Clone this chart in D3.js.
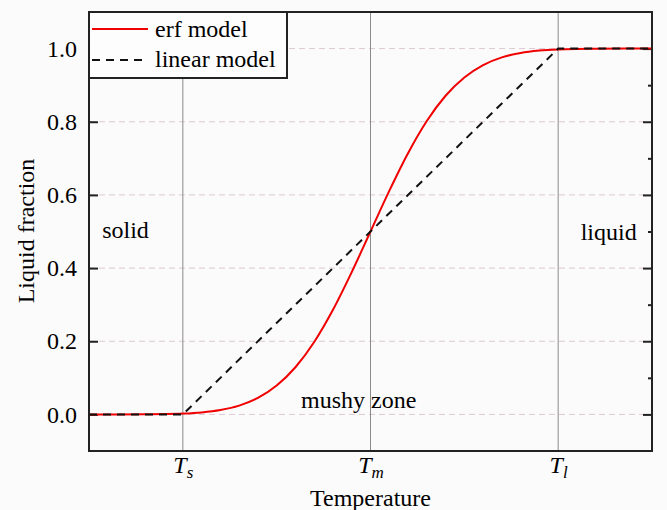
<!DOCTYPE html>
<html>
<head>
<meta charset="utf-8">
<script src="https://cdn.jsdelivr.net/npm/d3@7"></script>
<style>
  body { margin: 0; background: #fbfbfb; }
  svg { display: block; }
  svg text { font-family: "Liberation Serif", "Times New Roman", serif; }
</style>
</head>
<body>
<svg id="chart" width="667" height="510"></svg>
<script>
'use strict';

// temperature axis: Ts = -1, Tm = 0, Tl = 1
const temp_ticks = [-1, 0, 1];
const temp_subscripts = ['s', 'm', 'l'];
const fraction_ticks = [0, 0.2, 0.4, 0.6, 0.8, 1.0];
const fraction_minor = [0.1, 0.3, 0.5, 0.7, 0.9];

// erf model
const erf_temp = [-1.5, -1.2, -1.1, -1.0, -0.9, -0.8, -0.7, -0.6, -0.5, -0.4, -0.3, -0.2, -0.1,
  0, 0.1, 0.2, 0.3, 0.4, 0.5, 0.6, 0.7, 0.8, 0.9, 1.0, 1.1, 1.2, 1.5];
const erf_fraction = [0, 0.0003, 0.0009, 0.0023, 0.0055, 0.012, 0.024, 0.045, 0.079, 0.129, 0.198, 0.286, 0.389,
  0.5, 0.611, 0.714, 0.802, 0.871, 0.921, 0.955, 0.976, 0.988, 0.9945, 0.9977, 0.9991, 0.9997, 1];

// linear model
const linear_temp = [-1.5, -1, 1, 1.5];
const linear_fraction = [0, 0, 1, 1];

const region_labels = [
  {text: 'solid', t: -1.43, f: 0.482},
  {text: 'liquid', t: 1.12, f: 0.478},
  {text: 'mushy zone', t: -0.37, f: 0.018}
];

const svg = d3.select('#chart');
const plot_left = 89, plot_right = 652, plot_top = 12, plot_bottom = 451;

const x = d3.scaleLinear().domain([-1.5, 1.5]).range([plot_left, plot_right]);
const y = d3.scaleLinear().domain([-0.1, 1.1]).range([plot_bottom, plot_top]);

// horizontal dashed grid
svg.append('g').selectAll('line').data(fraction_ticks).join('line')
  .attr('x1', plot_left).attr('x2', plot_right)
  .attr('y1', d => y(d)).attr('y2', d => y(d))
  .attr('stroke', '#dcc9d4').attr('stroke-width', 1)
  .attr('stroke-dasharray', '6,4');

// vertical lines at Ts, Tm, Tl
svg.append('g').selectAll('line').data(temp_ticks).join('line')
  .attr('x1', d => x(d)).attr('x2', d => x(d))
  .attr('y1', plot_top).attr('y2', plot_bottom)
  .attr('stroke', '#8a8a8a').attr('stroke-width', 1);

// left axis, ticks pointing in
const yaxis = svg.append('g').attr('transform', `translate(${plot_left},0)`)
  .call(d3.axisLeft(y).tickValues(fraction_ticks).tickSize(-9).tickPadding(12)
    .tickFormat(d3.format('.1f')));
yaxis.select('.domain').remove();
yaxis.selectAll('line').attr('stroke', '#222').attr('stroke-width', 2);
yaxis.selectAll('text').attr('font-size', 24).attr('fill', '#000');

// right axis, major + minor ticks pointing in
const yright = svg.append('g').attr('transform', `translate(${plot_right},0)`)
  .call(d3.axisRight(y).tickValues(fraction_ticks).tickSize(-9).tickFormat(''));
yright.select('.domain').remove();
yright.selectAll('line').attr('stroke', '#222').attr('stroke-width', 2);
const yright_minor = svg.append('g').attr('transform', `translate(${plot_right},0)`)
  .call(d3.axisRight(y).tickValues(fraction_minor).tickSize(-4).tickFormat(''));
yright_minor.select('.domain').remove();
yright_minor.selectAll('line').attr('stroke', '#222').attr('stroke-width', 2);

// bottom axis with T_s, T_m, T_l
const xaxis = svg.append('g').attr('transform', `translate(0,${plot_bottom})`)
  .call(d3.axisBottom(x).tickValues(temp_ticks).tickSize(0).tickFormat(''));
xaxis.select('.domain').remove();
xaxis.selectAll('.tick').each(function(d, i) {
  const t = d3.select(this).append('text')
    .attr('y', 22).attr('fill', '#000')
    .attr('font-size', 24).attr('font-style', 'italic')
    .attr('text-anchor', 'middle');
  t.append('tspan').text('T');
  t.append('tspan').attr('font-size', 17).attr('dy', 5).text(temp_subscripts[i]);
});

// curves
const line = d3.line().x(d => x(d[0])).y(d => y(d[1]));

svg.append('path')
  .datum(d3.zip(erf_temp, erf_fraction))
  .attr('d', line.curve(d3.curveMonotoneX))
  .attr('fill', 'none').attr('stroke', '#f00000').attr('stroke-width', 2);

svg.append('path')
  .datum(d3.zip(linear_temp, linear_fraction))
  .attr('d', d3.line().x(d => x(d[0])).y(d => y(d[1])))
  .attr('fill', 'none').attr('stroke', '#111').attr('stroke-width', 2)
  .attr('stroke-dasharray', '8,6');

// region labels
svg.append('g').selectAll('text').data(region_labels).join('text')
  .attr('x', d => x(d.t)).attr('y', d => y(d.f))
  .attr('font-size', 24).attr('fill', '#000')
  .text(d => d.text);

// frame
svg.append('rect')
  .attr('x', plot_left).attr('y', plot_top)
  .attr('width', plot_right - plot_left).attr('height', plot_bottom - plot_top)
  .attr('fill', 'none').attr('stroke', '#222').attr('stroke-width', 2);

// axis titles
svg.append('text')
  .attr('x', (plot_left + plot_right) / 2).attr('y', 506)
  .attr('text-anchor', 'middle').attr('font-size', 24).attr('fill', '#000')
  .text('Temperature');

svg.append('text')
  .attr('transform', 'translate(34,231) rotate(-90)')
  .attr('text-anchor', 'middle').attr('font-size', 24).attr('fill', '#000')
  .text('Liquid fraction');

// legend
const legend = svg.append('g');
legend.append('rect')
  .attr('x', plot_left).attr('y', plot_top).attr('width', 198).attr('height', 66)
  .attr('fill', '#fdfdfd').attr('stroke', '#222').attr('stroke-width', 2);
legend.append('line')
  .attr('x1', 92).attr('x2', 148).attr('y1', 29).attr('y2', 29)
  .attr('stroke', '#f00000').attr('stroke-width', 2);
legend.append('line')
  .attr('x1', 92).attr('x2', 148).attr('y1', 60).attr('y2', 60)
  .attr('stroke', '#111').attr('stroke-width', 2).attr('stroke-dasharray', '8,6');
legend.append('text').attr('x', 155).attr('y', 37)
  .attr('font-size', 24).attr('fill', '#000').text('erf model');
legend.append('text').attr('x', 155).attr('y', 67)
  .attr('font-size', 24).attr('fill', '#000').text('linear model');
</script>
</body>
</html>
